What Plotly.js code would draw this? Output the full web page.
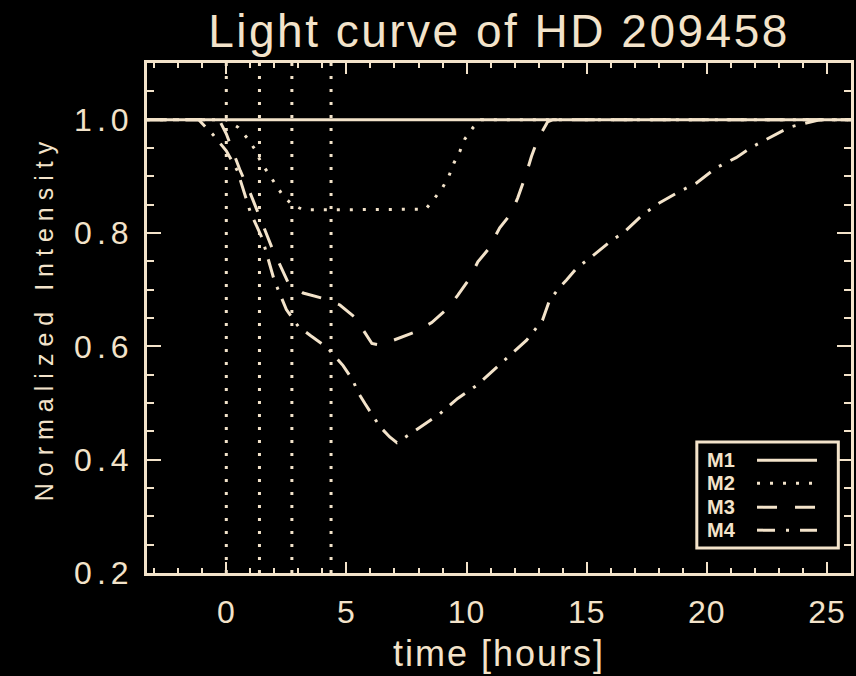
<!DOCTYPE html>
<html>
<head>
<meta charset="utf-8">
<script src="https://cdn.plot.ly/plotly-3.0.1.min.js"></script>
<style>
  html, body { margin: 0; padding: 0; background: #000; }
  #chart { width: 856px; height: 676px; }
  /* wide, spaced lettering in the style of vector plot fonts */
  .gtitle { letter-spacing: 2.5px; }
  .xtitle { letter-spacing: 2px; }
  .ytitle { letter-spacing: 7px; }
  .ytick text { letter-spacing: 5px; }
  .xtick text { letter-spacing: 1px; }
</style>
</head>
<body>
<div id="chart"></div>
<script>
// Transit light curves of HD 209458 for four models (time in hours, normalized flux)
const seriesNames = ['M1', 'M2', 'M3', 'M4'];

const timeM1 = [-3.3, 26];
const fluxM1 = [1.0, 1.0];

const timeM2 = [-3.3, 0.0, 0.5, 0.86, 1.2, 1.45, 1.74, 2.06, 2.37, 2.75, 3.2, 4.5, 6.0, 7.5, 8.3,
                8.68, 9.0, 9.26, 9.48, 9.72, 9.93, 10.27, 10.6, 26];
const fluxM2 = [1.0, 1.0, 0.986, 0.968, 0.947, 0.924, 0.906, 0.885, 0.865, 0.85, 0.841, 0.841, 0.841, 0.841, 0.842,
                0.862, 0.88, 0.90, 0.924, 0.944, 0.966, 0.986, 1.0, 1.0];

const timeM3 = [-3.3, -0.3, 0.0, 0.58, 1.0, 1.41, 1.91, 2.57, 3.2, 3.99, 4.73, 5.36, 5.86, 6.06, 6.4,
                7.1, 7.85, 8.55, 9.22, 9.63, 10.13, 10.47, 10.88, 11.38, 11.86, 12.13, 12.45, 12.7, 12.96,
                13.37, 13.6, 26];
const fluxM3 = [1.0, 1.0, 0.975, 0.91, 0.87, 0.826, 0.773, 0.713, 0.694, 0.685, 0.673, 0.651, 0.619, 0.605, 0.602,
                0.613, 0.625, 0.642, 0.667, 0.69, 0.72, 0.749, 0.77, 0.809, 0.835, 0.862, 0.9, 0.935, 0.965,
                0.996, 1.0, 1.0];

const timeM4 = [-3.3, -1.15, -0.54, 0.0, 0.46, 1.0, 1.5, 2.0, 2.5, 3.0, 3.5, 4.2, 4.4, 4.86, 5.27, 5.48,
                5.77, 6.19, 6.4, 6.8, 7.1, 7.85, 8.89, 9.63, 10.42, 11.25, 11.92, 12.5, 13.16, 13.45, 13.87,
                14.16, 14.58, 15.2, 15.95, 16.57, 17.32, 18.02, 18.85, 19.56, 20.39, 21.22, 21.89, 22.59,
                23.09, 23.55, 24.25, 24.7, 26];
const fluxM4 = [1.0, 1.0, 0.973, 0.945, 0.91, 0.837, 0.79, 0.716, 0.665, 0.635, 0.619, 0.598, 0.588, 0.566, 0.54, 0.519,
                0.499, 0.473, 0.458, 0.44, 0.43, 0.451, 0.481, 0.508, 0.531, 0.563, 0.588, 0.611, 0.646, 0.681, 0.704,
                0.717, 0.738, 0.758, 0.784, 0.802, 0.832, 0.853, 0.873, 0.888, 0.915, 0.933, 0.952, 0.968,
                0.979, 0.988, 0.996, 1.0, 1.0];

// Contact times marked by vertical dotted lines
const contactTimes = [0.0, 1.38, 2.73, 4.36];

const xTickVals = [0, 5, 10, 15, 20, 25];
const yTickVals = [0.2, 0.4, 0.6, 0.8, 1.0];

const ink = '#f3e3ca';
const fontFamily = 'Liberation Sans, Arial, sans-serif';
const yMin = 0.2, yMax = 1.1;
const xMin = -3.3, xMax = 26;

const dashStyles = ['solid', '3px,10px', '20px,18px', '19px,10px,3px,10px'];
const legendDashes = ['solid', '3px,10px', '20px,18px', '18px,11px,3px,11px'];

const seriesTimes = [timeM1, timeM2, timeM3, timeM4];
const seriesFlux = [fluxM1, fluxM2, fluxM3, fluxM4];

const traces = seriesNames.map((name, i) => ({
  type: 'scatter', mode: 'lines', name: name,
  x: seriesTimes[i], y: seriesFlux[i],
  line: { color: ink, width: 3, dash: dashStyles[i] },
  hoverinfo: 'skip'
}));

// vertical markers spanning the whole intensity range
const vx = [], vy = [];
contactTimes.forEach(t => { vx.push(t, t, null); vy.push(yMin, yMax, null); });
traces.unshift({
  type: 'scatter', mode: 'lines', x: vx, y: vy,
  line: { color: ink, width: 3, dash: '3px,10px' }, hoverinfo: 'skip', showlegend: false
});

// boxed key in the lower-right corner: label followed by a line sample
const keyBox = { x0: 0.781, x1: 0.982, y0: 0.049, y1: 0.257 };
const keyRows = [0.221, 0.176, 0.129, 0.084];
const shapes = [{
  type: 'rect', xref: 'paper', yref: 'paper',
  x0: keyBox.x0, x1: keyBox.x1, y0: keyBox.y0, y1: keyBox.y1,
  line: { color: ink, width: 3 }, fillcolor: '#000'
}];
const annotations = [];
seriesNames.forEach((name, i) => {
  annotations.push({
    xref: 'paper', yref: 'paper', x: 0.793, y: keyRows[i], xanchor: 'left', yanchor: 'middle',
    text: '<b>' + name + '</b>', showarrow: false,
    font: { family: fontFamily, size: 20, color: ink }
  });
  shapes.push({
    type: 'line', xref: 'paper', yref: 'paper', x0: 0.8665, x1: 0.9517, y0: keyRows[i], y1: keyRows[i],
    line: { color: ink, width: 3, dash: legendDashes[i] }
  });
});

const axisCommon = {
  showline: true, linecolor: ink, linewidth: 3, mirror: 'ticks',
  ticks: 'inside', tickcolor: ink, tickwidth: 2,
  showgrid: false, zeroline: false, fixedrange: true,
  tickfont: { family: fontFamily, size: 32, color: ink }
};

const layout = {
  width: 856, height: 676,
  paper_bgcolor: '#000', plot_bgcolor: '#000',
  margin: { l: 147, r: 5, t: 63, b: 103 },
  showlegend: false,
  title: {
    text: 'Light curve of HD 209458',
    font: { family: fontFamily, size: 46, color: ink },
    xref: 'paper', x: 0.5, xanchor: 'center',
    yref: 'container', y: 0.955, yanchor: 'middle'
  },
  xaxis: Object.assign({}, axisCommon, {
    range: [xMin, xMax], tickmode: 'array', tickvals: xTickVals, ticklen: 11,
    ticklabelstandoff: 9,
    minor: { dtick: 1, tick0: 0, ticklen: 5, tickwidth: 2, tickcolor: ink, ticks: 'inside' },
    title: { text: 'time [hours]', font: { family: fontFamily, size: 36, color: ink }, standoff: 12 }
  }),
  yaxis: Object.assign({}, axisCommon, {
    range: [yMin, yMax], tickmode: 'array', tickvals: yTickVals, tickformat: '.1f', ticklen: 14,
    ticklabelstandoff: 4,
    minor: { dtick: 0.05, tick0: 0.2, ticklen: 7, tickwidth: 2, tickcolor: ink, ticks: 'inside' },
    title: { text: 'Normalized Intensity', font: { family: fontFamily, size: 25, color: ink }, standoff: 14 }
  }),
  shapes: shapes,
  annotations: annotations
};

Plotly.newPlot('chart', traces, layout, { displayModeBar: false, staticPlot: true });
</script>
</body>
</html>
